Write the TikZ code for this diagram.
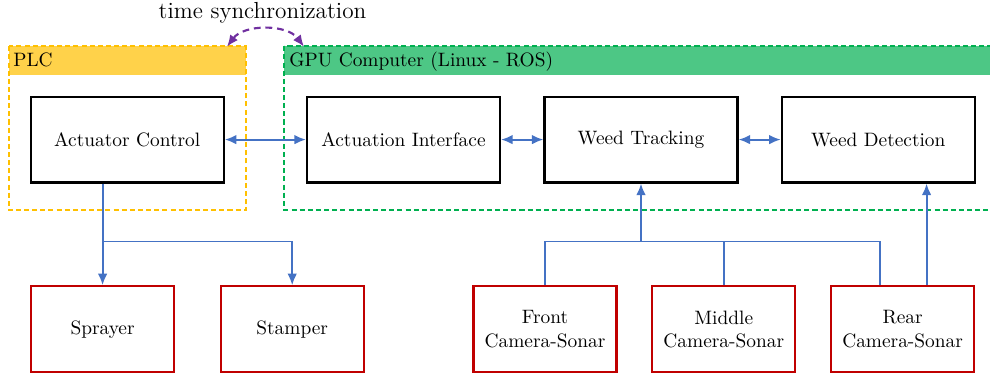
\documentclass[tikz,border=0pt]{standalone}
\usetikzlibrary{arrows.meta,calc}
\definecolor{plcfill}{HTML}{FFD24A}
\definecolor{plcline}{HTML}{FFC000}
\definecolor{gpufill}{HTML}{4DC785}
\definecolor{gpuline}{HTML}{00B050}
\definecolor{syncpurple}{HTML}{7030A0}
\definecolor{linkblue}{HTML}{4472C4}
\definecolor{boxred}{HTML}{C00000}
\tikzset{
  swbox/.style={draw=black, line width=1.1pt, minimum width=99.6pt, minimum height=44.3pt, inner sep=0pt},
  hwbox/.style={draw=boxred, line width=1.1pt, minimum width=73.8pt, minimum height=44.3pt, inner sep=0pt, align=center},
  container/.style={inner sep=0pt},
  contborder/.style={line width=1pt, dash pattern=on 2.6pt off 1.6pt},
  link/.style={draw=linkblue, line width=1pt},
  arr/.style={link, -{Latex[length=6pt,width=5pt]}},
  biarr/.style={link, {Latex[length=6pt,width=5pt]}-{Latex[length=6pt,width=5pt]}},
  syncarr/.style={draw=syncpurple, line width=1.1pt, dash pattern=on 3.5pt off 2.5pt, {Latex[length=6pt,width=5pt]}-{Latex[length=6pt,width=5pt]}},
  header/.style={anchor=base west, inner sep=0pt}
}
\begin{document}
\begin{tikzpicture}[x=0.516pt,y=-0.516pt]
\useasboundingbox (0,0) rectangle (990,375);
% containers
\path node (plc) [container, minimum width=122.1pt, minimum height=84.1pt] at (127.4,128.1) {};
\path node (gpu) [container, minimum width=366.6pt, minimum height=84.1pt] at (640,128.1) {};
\fill[plcfill] (plc.north west) rectangle ($(plc.north east)+(0,28.5)$);
\fill[gpufill] (gpu.north west) rectangle ($(gpu.north east)+(0,28.5)$);
\draw[contborder, draw=plcline] (plc.north west) rectangle (plc.south east);
\draw[contborder, draw=gpuline] (gpu.north west) rectangle (gpu.south east);
\node (plclabel) [header] at (13,66.5) {PLC};
\node (gpulabel) [header] at (289,66.5) {GPU Computer (Linux - ROS)};
% time sync
\node (sync) [anchor=base, inner sep=0pt] at (262.5,18.5) {\large time synchronization};
\coordinate (plcsync) at (227,46.7);
\coordinate (gpusync) at (304,46.7);
\draw[syncarr] (plcsync) .. controls (244,24) and (287,24) .. (gpusync);
% software boxes
\node (ac) [swbox] at (127.2,139.6) {Actuator Control};
\node (ai) [swbox] at (403.5,139.6) {Actuation Interface};
\node (wt) [swbox] at (641,139.6) {Weed Tracking};
\node (wd) [swbox] at (878.3,139.6) {Weed Detection};
% hardware boxes
\node (spr) [hwbox] at (102.6,329.2) {Sprayer};
\node (stp) [hwbox] at (292.2,329.2) {Stamper};
\node (front) [hwbox] at (545,329.2) {Front\\Camera-Sonar};
\node (mid) [hwbox] at (723.8,329.2) {Middle\\Camera-Sonar};
\node (rear) [hwbox] at (902.6,329.2) {Rear\\Camera-Sonar};
% horizontal links
\draw[biarr] (ac.east) -- (ai.west);
\draw[biarr] (ai.east) -- (wt.west);
\draw[biarr] (wt.east) -- (wd.west);
% actuator links
\coordinate (lbus) at (102.6,241.5);
\draw[arr] (ac.south -| spr.north) -- (spr.north);
\draw[arr] (lbus) -| (stp.north);
% sensor links
\coordinate (rbus) at (0,241.5);
\coordinate (rearL) at ($(rear.north)+(-22.2,0)$);
\coordinate (rearR) at ($(rear.north)+(24,0)$);
\draw[link] (front.north) -- (front.north |- rbus) -- (rearL |- rbus) -- (rearL);
\draw[link] (mid.north) -- (mid.north |- rbus);
\draw[arr] (wt.south |- rbus) -- (wt.south);
\draw[arr] (rearR) -- (rearR |- wd.south);
\end{tikzpicture}
\end{document}
